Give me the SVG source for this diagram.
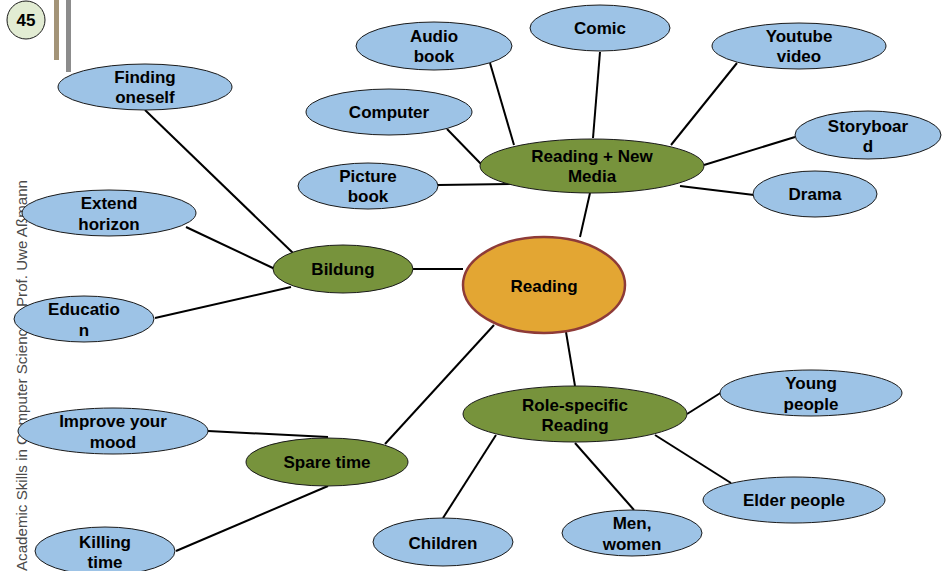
<svg xmlns="http://www.w3.org/2000/svg" width="943" height="571" viewBox="0 0 943 571">
<style>
.n{fill:#9dc3e6;stroke:#1a1a1a;stroke-width:1}
.g{fill:#77933c;stroke:#1a1a1a;stroke-width:1}
.t{font-family:"Liberation Sans",Arial,sans-serif;font-weight:bold;font-size:17px;fill:#000;text-anchor:middle}
#edges line{stroke:#000;stroke-width:2}
</style>
<rect width="943" height="571" fill="#fff"/>
<rect x="54" y="0" width="5" height="60" fill="#a39478"/>
<rect x="66" y="0" width="5" height="72" fill="#8c8c8c"/>
<g id="page">
<circle cx="26" cy="20" r="19" fill="#e2ecd3" stroke="#1a1a1a" stroke-width="1"/>
<text x="26" y="26" class="t">45</text>
</g>
<text transform="translate(27,571) rotate(-90)" font-family="'Liberation Sans',Arial,sans-serif" font-size="15" fill="#4a4a4a" textLength="391" lengthAdjust="spacingAndGlyphs">Academic Skills in Computer Science - Prof. Uwe Aßmann</text>
<g id="edges">
<line x1="490" y1="63" x2="514" y2="145"/>
<line x1="600" y1="52" x2="593" y2="138"/>
<line x1="737" y1="63" x2="671" y2="145"/>
<line x1="447" y1="129" x2="481" y2="164"/>
<line x1="795" y1="137" x2="704" y2="165"/>
<line x1="438" y1="185" x2="512" y2="184"/>
<line x1="680" y1="186" x2="754" y2="195"/>
<line x1="590" y1="193" x2="580" y2="237"/>
<line x1="145" y1="110" x2="293" y2="253"/>
<line x1="186" y1="227" x2="275" y2="269"/>
<line x1="413" y1="269" x2="463" y2="269"/>
<line x1="155" y1="318" x2="291" y2="287"/>
<line x1="566" y1="332" x2="575" y2="386"/>
<line x1="687" y1="414" x2="722" y2="392"/>
<line x1="655" y1="435" x2="731" y2="483"/>
<line x1="575" y1="443" x2="634" y2="510"/>
<line x1="443" y1="518" x2="496" y2="435"/>
<line x1="385" y1="444" x2="494" y2="325"/>
<line x1="208" y1="431" x2="328" y2="437"/>
<line x1="176" y1="551" x2="328" y2="486"/>
</g>
<g id="audio"><ellipse class="n" cx="434" cy="46" rx="78" ry="24"/><text class="t" x="434" y="42">Audio</text><text class="t" x="434" y="62">book</text></g>
<g id="comic"><ellipse class="n" cx="600" cy="28" rx="70" ry="23"/><text class="t" x="600" y="34">Comic</text></g>
<g id="youtube"><ellipse class="n" cx="799" cy="46" rx="87" ry="23"/><text class="t" x="799" y="42">Youtube</text><text class="t" x="799" y="62">video</text></g>
<g id="finding"><ellipse class="n" cx="145" cy="87" rx="87" ry="23"/><text class="t" x="145" y="83">Finding</text><text class="t" x="145" y="103">oneself</text></g>
<g id="computer"><ellipse class="n" cx="389" cy="112" rx="83" ry="23"/><text class="t" x="389" y="118">Computer</text></g>
<g id="storyboard"><ellipse class="n" cx="868" cy="135" rx="73" ry="24"/><text class="t" x="868" y="132">Storyboar</text><text class="t" x="868" y="152">d</text></g>
<g id="picture"><ellipse class="n" cx="368" cy="186" rx="70" ry="23"/><text class="t" x="368" y="182">Picture</text><text class="t" x="368" y="202">book</text></g>
<g id="rnm"><ellipse class="g" cx="592" cy="166" rx="112" ry="27"/><text class="t" x="592" y="162">Reading + New</text><text class="t" x="592" y="182">Media</text></g>
<g id="drama"><ellipse class="n" cx="815" cy="194" rx="62" ry="23"/><text class="t" x="815" y="200">Drama</text></g>
<g id="extend"><ellipse class="n" cx="109" cy="213" rx="87" ry="23"/><text class="t" x="109" y="209">Extend</text><text class="t" x="109" y="230">horizon</text></g>
<g id="bildung"><ellipse class="g" cx="343" cy="269" rx="70" ry="24"/><text class="t" x="343" y="275">Bildung</text></g>
<g id="reading"><ellipse cx="544" cy="285" rx="81" ry="48" fill="#e3a633" stroke="#8e3b38" stroke-width="2.5"/><text class="t" x="544" y="292">Reading</text></g>
<g id="education"><ellipse class="n" cx="84" cy="319" rx="70" ry="23"/><text class="t" x="84" y="315">Educatio</text><text class="t" x="84" y="336">n</text></g>
<g id="young"><ellipse class="n" cx="811" cy="393" rx="91" ry="23"/><text class="t" x="811" y="389">Young</text><text class="t" x="811" y="410">people</text></g>
<g id="role"><ellipse class="g" cx="575" cy="414" rx="112" ry="28"/><text class="t" x="575" y="411">Role-specific</text><text class="t" x="575" y="431">Reading</text></g>
<g id="improve"><ellipse class="n" cx="113" cy="431" rx="95" ry="23"/><text class="t" x="113" y="427">Improve your</text><text class="t" x="113" y="448">mood</text></g>
<g id="spare"><ellipse class="g" cx="327" cy="462" rx="81" ry="24"/><text class="t" x="327" y="468">Spare time</text></g>
<g id="elder"><ellipse class="n" cx="794" cy="500" rx="91" ry="23"/><text class="t" x="794" y="506">Elder people</text></g>
<g id="men"><ellipse class="n" cx="632" cy="533" rx="70" ry="23"/><text class="t" x="632" y="529">Men,</text><text class="t" x="632" y="550">women</text></g>
<g id="children"><ellipse class="n" cx="443" cy="542" rx="70" ry="24"/><text class="t" x="443" y="549">Children</text></g>
<g id="killing"><ellipse class="n" cx="105" cy="551" rx="70" ry="24"/><text class="t" x="105" y="548">Killing</text><text class="t" x="105" y="568">time</text></g>
</svg>
